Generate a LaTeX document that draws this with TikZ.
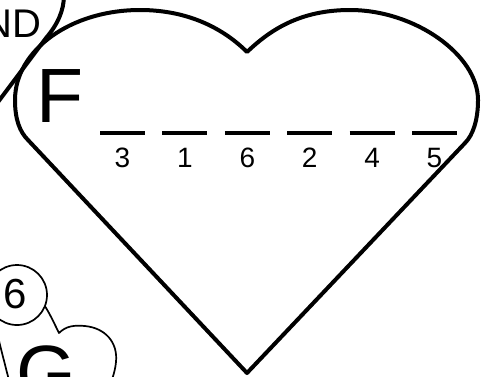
\documentclass[tikz,border=0pt]{standalone}
\usepackage{fontspec}
\setmainfont{Liberation Sans}
\usepackage{tikz}

\begin{document}
\begin{tikzpicture}[x=0.5pt, y=-0.5pt, line join=round,
  heartline/.style={line width=2pt},
  thinline/.style={line width=0.85pt},
  bigletter/.style={font=\fontsize{38.5}{40}\selectfont, inner sep=0pt, anchor=base west},
  digit/.style={font=\fontsize{14}{16}\selectfont, inner sep=0pt, anchor=base}]
  \useasboundingbox (0,0) rectangle (490,376);
  \clip (0,0) rectangle (490,376);

  % next heart, top left corner
  \draw[heartline] (64,-5) .. controls (64,10) and (58,24) .. (46,38) -- (-20,126);
  \node[font=\fontsize{20}{22}\selectfont, inner sep=0pt, anchor=base east] (nd) at (42,37) {ND};

  % next heart, bottom left corner
  \draw[thinline] (14,400) -- (0,345) .. controls (-8,315) and (0,280) .. (20,285)
    .. controls (40,290) and (50,315) .. (59,333)
    .. controls (66,326) and (74,325) .. (85,326)
    .. controls (105,328) and (118,342) .. (116,362)
    .. controls (115,372) and (112,380) .. (108,390);
  \draw[thinline, fill=white] (17,295) circle[radius=30];
  \node[font=\fontsize{21}{23}\selectfont, inner sep=0pt, anchor=base] (six) at (15,308) {6};
  \node[bigletter] (g) at (16,399) {G};

  % main heart
  \draw[heartline] (247,373) -- (28,140) .. controls (20,132) and (15,120) .. (15,100)
    .. controls (15,50) and (71,10) .. (140,10)
    .. controls (190,10) and (225,30) .. (247,52)
    .. controls (270,30) and (300,10) .. (350,10)
    .. controls (415,10) and (478,55) .. (478,100)
    .. controls (478,120) and (473,135) .. (465,143) -- cycle;
  \node[bigletter] (f) at (36,122) {F};

  % blanks and their numbers
  \foreach \d [count=\i] in {3,1,6,2,4,5} {
    \draw[heartline] ({122.5+62.4*(\i-1)-22.5},133) -- ({122.5+62.4*(\i-1)+22.5},133);
    \node[digit] (d\i) at ({122.5+62.4*(\i-1)},167) {\d};
  }
\end{tikzpicture}
\end{document}
